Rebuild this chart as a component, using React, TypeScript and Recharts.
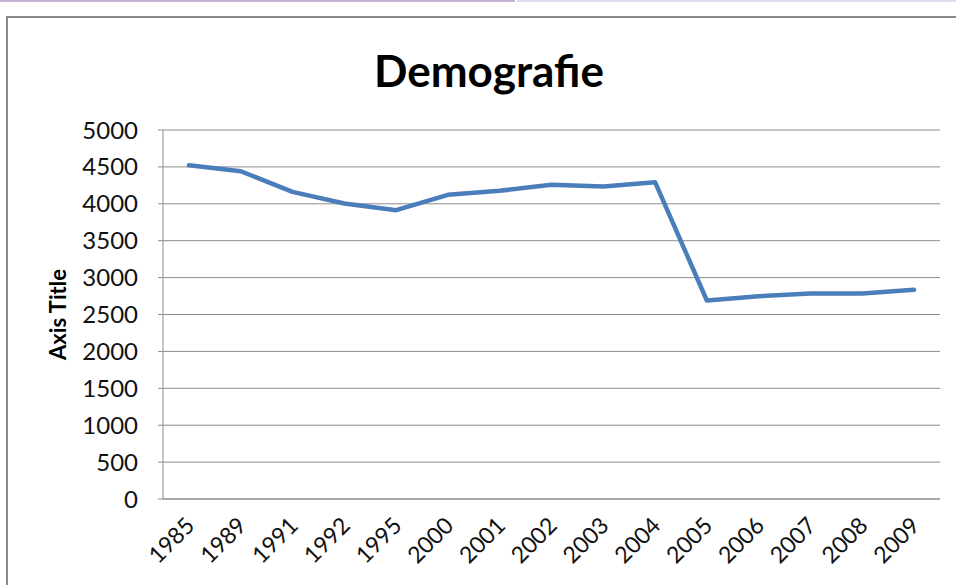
import { CartesianGrid, Line, LineChart, XAxis, YAxis } from "recharts";

const years = ["1985", "1989", "1991", "1992", "1995", "2000", "2001", "2002", "2003", "2004", "2005", "2006", "2007", "2008", "2009"];
const population = [4522, 4441, 4162, 4005, 3914, 4122, 4176, 4257, 4235, 4293, 2690, 2748, 2784, 2784, 2834];
const yTicks = [0, 500, 1000, 1500, 2000, 2500, 3000, 3500, 4000, 4500, 5000];

const data = years.map((year, i) => ({ year, value: population[i] }));

const FONT = "Lato, 'Open Sans', sans-serif";
const GRID = "#8c8c8c";
const LINE = "#4a7ebb";

// rotated category labels, anchored at their top-right end
function YearTick(props: any) {
  const { x, y, payload } = props;
  const ax = x + 7;
  const ay = y + 20;
  return (
    <text
      x={ax}
      y={ay}
      transform={`rotate(-45, ${ax}, ${ay})`}
      textAnchor="end"
      fontFamily={FONT}
      fontSize={23}
      fill="#111"
    >
      {payload.value}
    </text>
  );
}

export default function App() {
  return (
    <div style={{ position: "fixed", left: 0, top: 0, width: 956, height: 585, overflow: "hidden", background: "#fff" }}>
      <div style={{ position: "absolute", left: 0, top: 0, width: 515, height: 2, background: "#c3b4d6" }} />
      <div style={{ position: "absolute", left: 517, top: 0, width: 439, height: 2, background: "#e2dbee" }} />
      <div
        style={{
          position: "absolute",
          left: 6,
          top: 16,
          width: 980,
          height: 600,
          borderLeft: "2px solid #8a8a8a",
          borderTop: "2px solid #8a8a8a",
        }}
      />
      <div style={{ position: "absolute", left: 0, top: 0, width: 956, textAlign: "center", paddingLeft: 22, boxSizing: "border-box" }}>
        <div style={{ marginTop: 44, fontFamily: FONT, fontWeight: 700, fontSize: 44, color: "#000", lineHeight: "52px" }}>
          Demografie
        </div>
      </div>
      <div style={{ position: "absolute", left: 0, top: 0 }}>
        <LineChart width={956} height={585} data={data} margin={{ top: 130, right: 16, bottom: 56, left: 0 }}>
          <CartesianGrid horizontal vertical={false} stroke={GRID} strokeWidth={1} />
          <XAxis
            dataKey="year"
            interval={0}
            height={30}
            padding={{ left: 26, right: 26 }}
            tickLine={false}
            axisLine={{ stroke: GRID, strokeWidth: 1 }}
            tick={<YearTick />}
          />
          <YAxis
            width={163}
            domain={[0, 5000]}
            ticks={yTicks}
            interval={0}
            tickSize={5}
            tickMargin={20}
            tickLine={{ stroke: GRID }}
            axisLine={{ stroke: GRID, strokeWidth: 1 }}
            tick={{ fontFamily: FONT, fontSize: 24, fill: "#111" }}
            label={{
              value: "Axis Title",
              angle: -90,
              position: "insideLeft",
              offset: 58,
              style: { fontFamily: FONT, fontSize: 22, fontWeight: 700, fill: "#000", textAnchor: "middle" },
            }}
          />
          <Line
            type="linear"
            dataKey="value"
            stroke={LINE}
            strokeWidth={4.5}
            strokeLinecap="round"
            strokeLinejoin="round"
            dot={false}
            isAnimationActive={false}
          />
        </LineChart>
      </div>
    </div>
  );
}
